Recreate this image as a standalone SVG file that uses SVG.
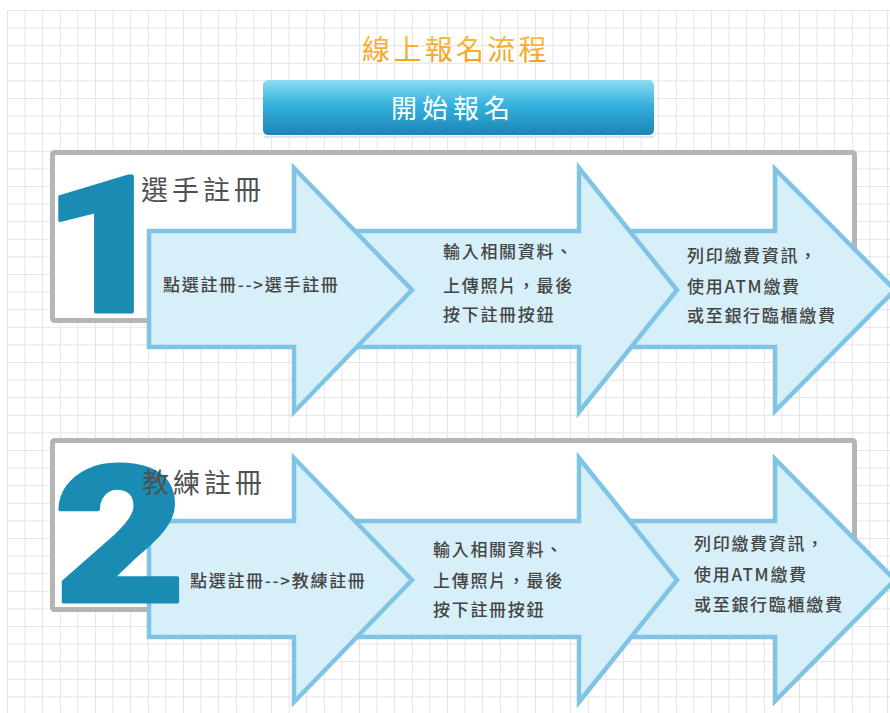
<svg xmlns="http://www.w3.org/2000/svg" width="890" height="713" viewBox="0 0 890 713">
<defs>
  <pattern id="grid" x="7" y="10" width="17.6" height="17.6" patternUnits="userSpaceOnUse">
    <path d="M0,0.5 H17.6 M0.5,0 V17.6" stroke="#e4e4e4" stroke-width="1" fill="none"/>
  </pattern>
  <linearGradient id="btn" x1="0" y1="0" x2="0" y2="1">
    <stop offset="0" stop-color="#8ddcf4"/>
    <stop offset="0.45" stop-color="#35b1de"/>
    <stop offset="1" stop-color="#1b86b4"/>
  </linearGradient>
  <linearGradient id="ttl" x1="0" y1="0" x2="0" y2="1">
    <stop offset="0" stop-color="#fcc24c"/>
    <stop offset="1" stop-color="#f39a12"/>
  </linearGradient>
  <style>
    .box{fill:#ffffff;stroke:#b5b5b5;stroke-width:5}
    .arr{fill:#d7eff9;stroke:#80c4e5;stroke-width:4.5;stroke-linejoin:miter}
    .t{font-family:"Noto Sans CJK TC","Noto Sans CJK SC",sans-serif;fill:#454545;font-size:17px;font-weight:500;letter-spacing:1.7px}
    .h{font-size:27px;font-weight:400;letter-spacing:4px;fill:#505050}
    .num{font-family:Roboto,"Open Sans",sans-serif;font-weight:900;fill:#1a8cb4;stroke:#1a8cb4;stroke-width:3;stroke-linejoin:round}
  </style>
</defs>
<rect width="890" height="713" fill="#ffffff"/>
<rect x="7" y="10" width="883" height="703" fill="url(#grid)"/>

<g id="title">
  <text x="456" y="60" text-anchor="middle" font-family="Noto Sans CJK TC, Noto Sans CJK SC, sans-serif" font-size="28" letter-spacing="3.3" fill="url(#ttl)">線上報名流程</text>
</g>

<g id="start">
  <rect x="264" y="136" width="390" height="2" fill="#e2e2e2"/>
  <rect x="263" y="80" width="391" height="55" rx="5" fill="url(#btn)"/>
  <text x="453" y="118" text-anchor="middle" font-family="Noto Sans CJK TC, Noto Sans CJK SC, sans-serif" font-size="26" letter-spacing="5" fill="#ffffff">開始報名</text>
</g>

<g id="row1">
  <rect class="box" x="52.5" y="152.5" width="802" height="168" rx="2"/>
  <g id="r1-step3">
    <path class="arr" d="M600,231 H775 V169 L895,290 L775,411 V347 H600 Z"/>
    <text class="t" x="687" y="262">列印繳費資訊，</text>
    <text class="t" x="687" y="293">使用ATM繳費</text>
    <text class="t" x="687" y="322">或至銀行臨櫃繳費</text>
  </g>
  <g id="r1-step2">
    <path class="arr" d="M300,231 H579 V168 L677,290 L579,412 V347 H300 Z"/>
    <text class="t" x="443" y="258">輸入相關資料、</text>
    <text class="t" x="443" y="292">上傳照片，最後</text>
    <text class="t" x="443" y="321">按下註冊按鈕</text>
  </g>
  <g id="r1-step1">
    <path class="arr" d="M149,231 H294 V168 L412,290 L294,412 V347 H149 Z"/>
    <text class="t" x="163" y="291">點選註冊--&gt;選手註冊</text>
  </g>
  <g id="r1-label">
    <text class="num" transform="translate(42,312) scale(1.15,1)" font-size="192">1</text>
    <text class="t h" x="141" y="200">選手註冊</text>
  </g>
</g>

<g id="row2">
  <rect class="box" x="52.5" y="440.5" width="802" height="169" rx="2"/>
  <g id="r2-step3">
    <path class="arr" d="M600,521 H775 V459 L895,580 L775,701 V637 H600 Z"/>
    <text class="t" x="694" y="550">列印繳費資訊，</text>
    <text class="t" x="694" y="581">使用ATM繳費</text>
    <text class="t" x="694" y="611">或至銀行臨櫃繳費</text>
  </g>
  <g id="r2-step2">
    <path class="arr" d="M300,521 H579 V458 L677,580 L579,702 V637 H300 Z"/>
    <text class="t" x="433" y="556">輸入相關資料、</text>
    <text class="t" x="433" y="587">上傳照片，最後</text>
    <text class="t" x="433" y="616">按下註冊按鈕</text>
  </g>
  <g id="r2-step1">
    <path class="arr" d="M149,521 H294 V458 L412,580 L294,702 V637 H149 Z"/>
    <text class="t" x="190" y="587">點選註冊--&gt;教練註冊</text>
  </g>
  <g id="r2-label">
    <text class="num" transform="translate(53.5,601.5) scale(1.2,1)" font-size="191">2</text>
    <text class="t h" x="142" y="493">教練註冊</text>
  </g>
</g>

<g id="connectors"/>
</svg>
